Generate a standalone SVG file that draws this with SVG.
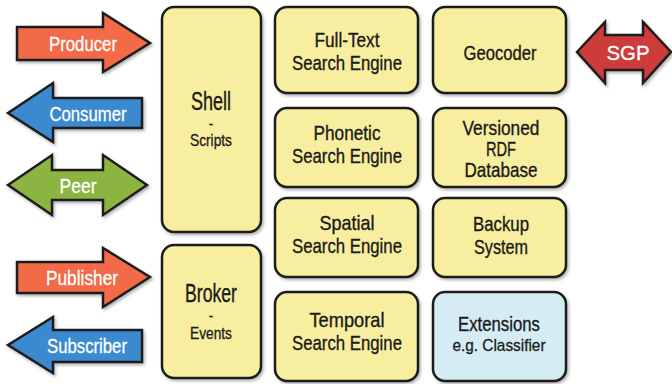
<svg xmlns="http://www.w3.org/2000/svg" width="672" height="384" viewBox="0 0 672 384">
<defs>
<filter id="sh" x="-10%" y="-10%" width="130%" height="130%">
<feDropShadow dx="1.5" dy="2" stdDeviation="1.5" flood-color="#000" flood-opacity="0.3"/>
</filter>
<style>
.box{fill:#f8ee9f;stroke:#1e1e1e;stroke-width:2.5;filter:url(#sh)}
.ext{fill:#d5ecf4}
.arr{stroke:#1e1e1e;stroke-width:2.5;stroke-linejoin:miter;filter:url(#sh)}
.or{fill:#f26a47}.bl{fill:#3b8ad0}.gr{fill:#8cb43f}.rd{fill:#cd3a3a}
text{font-family:"Liberation Sans","Arial",sans-serif;text-anchor:middle}
.t{font-size:21px;fill:#1a1a1a;stroke:#1a1a1a;stroke-width:0.35}
.big{font-size:25px}
.s{font-size:17px;fill:#1a1a1a;stroke:#1a1a1a;stroke-width:0.3}
.d{font-size:12px;fill:#1a1a1a;stroke:#1a1a1a;stroke-width:0.5}
.w{font-size:21px;fill:#fff;stroke:#fff;stroke-width:0.3}
</style>
</defs>
<rect width="672" height="384" fill="#fff"/>
<g id="connectors">
<g id="producer"><polygon class="arr or" points="17,27 103,27 103,13 150,43 103,72 103,60 17,60"/><text class="w" x="83" y="51" textLength="68" lengthAdjust="spacingAndGlyphs">Producer</text></g>
<g id="consumer"><polygon class="arr bl" points="142,98 53,98 53,83 8,113 53,142 53,128 142,128"/><text class="w" x="88" y="121" textLength="77" lengthAdjust="spacingAndGlyphs">Consumer</text></g>
<g id="peer"><polygon class="arr gr" points="8,185 52,155 52,170 103,170 103,155 147,185 103,215 103,200 52,200 52,215"/><text class="w" x="78" y="193" textLength="37" lengthAdjust="spacingAndGlyphs">Peer</text></g>
<g id="publisher"><polygon class="arr or" points="17,262 103,262 103,248 150,277 103,307 103,293 17,293"/><text class="w" x="82" y="285" textLength="72" lengthAdjust="spacingAndGlyphs">Publisher</text></g>
<g id="subscriber"><polygon class="arr bl" points="142,330 53,330 53,317 8,345 53,373 53,362 142,362"/><text class="w" x="87" y="353" textLength="80" lengthAdjust="spacingAndGlyphs">Subscriber</text></g>
<g id="sgp"><polygon class="arr rd" points="577,52 605,22 605,35 643,35 643,22 671,52 643,83 643,70 605,70 605,83"/><text class="w" x="628" y="60" textLength="43" lengthAdjust="spacingAndGlyphs">SGP</text></g>
</g>
<g id="shell"><rect class="box" x="162" y="7" width="99" height="225" rx="12"/><text class="t big" x="211" y="110" textLength="40" lengthAdjust="spacingAndGlyphs">Shell</text><text class="d" x="211" y="128">-</text><text class="s" x="211" y="146" textLength="42" lengthAdjust="spacingAndGlyphs">Scripts</text></g>
<g id="broker"><rect class="box" x="162" y="245" width="99" height="133" rx="12"/><text class="t big" x="211" y="302" textLength="52" lengthAdjust="spacingAndGlyphs">Broker</text><text class="d" x="211" y="320">-</text><text class="s" x="211" y="339" textLength="42" lengthAdjust="spacingAndGlyphs">Events</text></g>
<g id="fulltext"><rect class="box" x="275" y="7" width="143" height="86" rx="12"/><text class="t" x="347" y="47" textLength="65" lengthAdjust="spacingAndGlyphs">Full-Text</text><text class="t" x="347" y="70" textLength="110" lengthAdjust="spacingAndGlyphs">Search Engine</text></g>
<g id="phonetic"><rect class="box" x="275" y="108" width="143" height="79" rx="12"/><text class="t" x="347" y="140" textLength="67" lengthAdjust="spacingAndGlyphs">Phonetic</text><text class="t" x="347" y="163" textLength="110" lengthAdjust="spacingAndGlyphs">Search Engine</text></g>
<g id="spatial"><rect class="box" x="275" y="198" width="143" height="79" rx="12"/><text class="t" x="347" y="230" textLength="55" lengthAdjust="spacingAndGlyphs">Spatial</text><text class="t" x="347" y="253" textLength="110" lengthAdjust="spacingAndGlyphs">Search Engine</text></g>
<g id="temporal"><rect class="box" x="275" y="292" width="143" height="89" rx="12"/><text class="t" x="347" y="327" textLength="75" lengthAdjust="spacingAndGlyphs">Temporal</text><text class="t" x="347" y="350" textLength="110" lengthAdjust="spacingAndGlyphs">Search Engine</text></g>
<g id="geocoder"><rect class="box" x="433" y="7" width="133" height="86" rx="12"/><text class="t" x="500" y="60" textLength="73" lengthAdjust="spacingAndGlyphs">Geocoder</text></g>
<g id="rdf"><rect class="box" x="433" y="108" width="133" height="79" rx="12"/><text class="t" x="501" y="135" textLength="77" lengthAdjust="spacingAndGlyphs">Versioned</text><text class="t" x="501" y="156" textLength="30" lengthAdjust="spacingAndGlyphs">RDF</text><text class="t" x="501" y="177" textLength="73" lengthAdjust="spacingAndGlyphs">Database</text></g>
<g id="backup"><rect class="box" x="433" y="198" width="133" height="79" rx="12"/><text class="t" x="501" y="231" textLength="56" lengthAdjust="spacingAndGlyphs">Backup</text><text class="t" x="501" y="254" textLength="54" lengthAdjust="spacingAndGlyphs">System</text></g>
<g id="extensions"><rect class="box ext" x="433" y="292" width="133" height="89" rx="12"/><text class="t" x="499" y="331" textLength="82" lengthAdjust="spacingAndGlyphs">Extensions</text><text class="s" x="499" y="351" textLength="93" lengthAdjust="spacingAndGlyphs">e.g. Classifier</text></g>
</svg>
